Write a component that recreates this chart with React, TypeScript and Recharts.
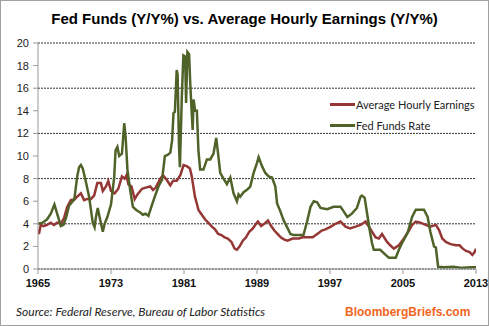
import { LineChart, Line, XAxis, YAxis, CartesianGrid } from 'recharts';

// Average hourly earnings, Y/Y %
const aheYears = [
  1965.0, 1965.1, 1965.3, 1965.6, 1966.0, 1966.4, 1966.75, 1967.1, 1967.5, 1967.85,
  1968.2, 1968.6, 1968.95, 1969.3, 1969.7, 1970.05, 1970.4, 1970.8, 1971.15, 1971.5,
  1971.9, 1972.1, 1972.45, 1972.7, 1973.0, 1973.4, 1973.8, 1974.2, 1974.5, 1974.7,
  1974.9, 1975.25, 1975.6, 1975.9, 1976.4, 1976.8, 1977.3, 1977.6, 1977.9, 1978.4,
  1978.7, 1979.1, 1979.5, 1979.8, 1980.2, 1980.6, 1980.95, 1981.3, 1981.65, 1981.85,
  1982.2, 1982.6, 1982.95, 1983.3, 1983.65, 1984.0, 1984.4, 1984.75, 1985.1, 1985.45,
  1985.8, 1986.2, 1986.55, 1986.8, 1987.1, 1987.45, 1987.8, 1988.15, 1988.55, 1988.9,
  1989.1, 1989.45, 1989.8, 1990.2, 1990.55, 1990.9, 1991.25, 1991.6, 1992.0, 1992.35,
  1992.9, 1993.6, 1994.0, 1994.5, 1995.1, 1995.6, 1996.1, 1996.5, 1997.1, 1997.6,
  1998.15, 1998.7, 1999.2, 1999.8, 2000.35, 2000.9, 2001.45, 2002.0, 2002.35, 2002.7,
  2003.25, 2003.6, 2004.0, 2004.55, 2005.1, 2005.65, 2006.0, 2006.4, 2006.9, 2007.5,
  2008.0, 2008.6, 2008.95, 2009.3, 2009.7, 2010.2, 2010.8, 2011.2, 2011.55, 2011.9,
  2012.3, 2012.6, 2012.85, 2013.0,
];
const aheValues = [
  3.5, 3.1, 3.9, 3.8, 3.9, 4.1, 3.9, 4.1, 4.0, 4.5,
  5.5, 6.1, 6.1, 6.4, 6.7, 6.1, 6.2, 6.2, 6.5, 7.6,
  7.6, 6.9, 7.3, 7.8, 6.9, 6.7, 7.1, 8.2, 8.0, 8.3,
  7.5, 7.3, 6.2, 6.6, 7.1, 7.2, 7.3, 7.0, 7.2, 8.0,
  8.3, 7.9, 7.4, 7.8, 7.8, 8.3, 9.2, 9.1, 8.9, 8.2,
  6.4, 5.2, 4.8, 4.4, 4.1, 3.8, 3.5, 3.1, 3.0, 2.8,
  2.7, 2.4, 1.8, 1.7, 2.0, 2.5, 2.8, 3.3, 3.6, 4.0,
  4.2, 3.8, 4.0, 4.3, 3.8, 3.4, 3.1, 2.8, 2.6, 2.5,
  2.7, 2.7, 2.8, 2.8, 2.8, 3.1, 3.4, 3.5, 3.75, 4.0,
  4.2, 3.75, 3.6, 3.75, 3.9, 4.2, 3.5, 2.8, 2.7, 3.1,
  2.4, 2.1, 1.8, 2.1, 2.7, 3.4, 3.9, 4.2, 4.1, 3.9,
  3.75, 3.9, 3.45, 2.7, 2.4, 2.2, 2.1, 2.1, 1.8, 1.6,
  1.5, 1.25, 1.5, 1.8,
];

// Fed funds rate, %
const ffYears = [
  1965.0, 1965.5, 1966.0, 1966.4, 1966.8, 1967.1, 1967.5, 1967.8, 1968.1, 1968.4,
  1968.8, 1969.0, 1969.3, 1969.5, 1969.7, 1969.9, 1970.2, 1970.6, 1971.0, 1971.2,
  1971.35, 1971.55, 1971.75, 1972.1, 1972.3, 1972.6, 1973.0, 1973.35, 1973.5, 1973.7,
  1973.9, 1974.2, 1974.45, 1974.6, 1974.8, 1975.1, 1975.4, 1975.8, 1976.2, 1976.5,
  1976.8, 1977.1, 1977.5, 1977.8, 1978.2, 1978.6, 1978.9, 1979.2, 1979.5, 1979.7,
  1979.85, 1980.0, 1980.2, 1980.3, 1980.45, 1980.55, 1980.76, 1980.93, 1981.12, 1981.23,
  1981.37, 1981.56, 1981.67, 1981.8, 1981.95, 1982.05, 1982.22, 1982.41, 1982.58, 1982.77,
  1983.13, 1983.51, 1983.87, 1984.23, 1984.53, 1984.78, 1984.97, 1985.33, 1985.7, 1986.07,
  1986.43, 1986.8, 1986.98, 1987.16, 1987.53, 1987.9, 1988.26, 1988.63, 1989.0, 1989.18,
  1989.55, 1989.91, 1990.27, 1990.65, 1991.01, 1991.2, 1991.56, 1991.92, 1992.3, 1992.66,
  1993.0, 1994.09, 1994.49, 1994.86, 1995.22, 1995.59, 1995.96, 1996.69, 1997.4, 1998.15,
  1998.5, 1998.9, 1999.4, 1999.95, 2000.35, 2000.5, 2000.8, 2001.05, 2001.35, 2001.6,
  2001.8, 2002.5, 2003.1, 2003.45, 2004.2, 2004.55, 2004.9, 2005.5, 2006.0, 2006.4,
  2007.3, 2007.7, 2008.0, 2008.4, 2008.6, 2008.85, 2009.5, 2010.5, 2011.5, 2012.5,
  2013.0,
];
const ffValues = [
  4.0, 4.1, 4.4, 4.9, 5.7, 4.9, 3.8, 3.9, 4.6, 5.6,
  6.0, 6.3, 8.2, 9.0, 9.2, 8.9, 7.9, 6.4, 4.1, 3.7,
  4.6, 5.4, 4.6, 3.3, 4.0, 4.6, 5.7, 8.1, 10.5, 10.8,
  10.0, 10.2, 12.9, 11.7, 8.8, 7.0, 5.5, 5.2, 5.0, 4.8,
  4.9, 4.7, 5.7, 6.4, 7.3, 7.9, 10.0, 10.1, 10.3, 11.4,
  13.8, 13.9, 17.6, 17.2, 11.0, 9.0, 15.2, 18.9, 18.8, 14.7,
  19.2, 19.0, 16.7, 14.5, 12.3, 15.0, 14.0, 14.0, 10.5, 8.8,
  8.8, 9.7, 9.7, 10.2, 11.6, 9.9, 8.5, 8.0, 7.5, 8.1,
  6.7, 6.0, 6.6, 6.4, 6.8, 7.0, 7.3, 8.5, 9.4, 9.9,
  9.1, 8.5, 8.2, 8.1, 7.3, 5.8, 5.1, 4.3, 3.7, 3.1,
  3.0, 3.0, 4.2, 5.5, 6.0, 5.9, 5.4, 5.3, 5.5, 5.5,
  5.1, 4.6, 4.9, 5.4, 6.4, 6.5, 6.3, 5.0, 3.45, 2.3,
  1.7, 1.7, 1.25, 1.0, 1.0, 1.7, 2.3, 3.2, 4.6, 5.25,
  5.25, 4.6, 3.3, 2.0, 1.9, 0.2, 0.15, 0.2, 0.1, 0.15,
  0.15,
];

const xTicks = [1965, 1973, 1981, 1989, 1997, 2005, 2013];
const yTicks = [0, 2, 4, 6, 8, 10, 12, 14, 16, 18, 20];

const aheData = aheYears.map((year, i) => ({ year, value: aheValues[i] }));
const ffData = ffYears.map((year, i) => ({ year, value: ffValues[i] }));

const RED = '#953735';
const GREEN = '#4f6228';

const legendItems = [
  { label: 'Average Hourly Earnings', color: RED },
  { label: 'Fed Funds Rate', color: GREEN },
];

export default function App() {
  return (
    <div
      style={{
        position: 'absolute',
        left: 0,
        top: 0,
        width: 489,
        height: 326,
        boxSizing: 'border-box',
        border: '1px solid #a0a0a0',
        background: '#fff',
        fontFamily: '"Liberation Sans", Arial, sans-serif',
      }}
    >
      <div
        style={{
          position: 'absolute',
          left: 0,
          top: 9,
          width: 487,
          textAlign: 'center',
          fontSize: 15,
          fontWeight: 'bold',
          color: '#000',
        }}
      >
        Fed Funds (Y/Y%) vs. Average Hourly Earnings (Y/Y%)
      </div>
      <div style={{ position: 'absolute', left: -1, top: -1 }}>
        <LineChart width={489} height={326} margin={{ top: 43, right: 13, left: 0, bottom: 37 }}>
          <CartesianGrid vertical={false} stroke="#333" strokeDasharray="2 1" />
          <XAxis
            dataKey="year"
            type="number"
            domain={[1965, 2013]}
            ticks={xTicks}
            allowDataOverflow
            height={20}
            stroke="#999"
            tickSize={5}
            tick={{ fill: '#111', fontSize: 11, fontWeight: 'bold' }}
            tickMargin={5}
          />
          <YAxis
            domain={[0, 20]}
            ticks={yTicks}
            width={38}
            stroke="#999"
            tickSize={5}
            tick={{ fill: '#222', fontSize: 11 }}
            tickMargin={4}
          />
          <Line
            data={aheData}
            dataKey="value"
            name="Average Hourly Earnings"
            type="linear"
            stroke={RED}
            strokeWidth={2.5}
            dot={false}
            isAnimationActive={false}
          />
          <Line
            data={ffData}
            dataKey="value"
            name="Fed Funds Rate"
            type="linear"
            stroke={GREEN}
            strokeWidth={2.5}
            dot={false}
            isAnimationActive={false}
          />
        </LineChart>
      </div>
      <div
        style={{
          position: 'absolute',
          left: 329,
          top: 93,
          fontFamily: 'Lato, "Liberation Sans", sans-serif',
          fontSize: 11,
          color: '#222',
        }}
      >
        {legendItems.map((item) => (
          <div key={item.label} style={{ display: 'flex', alignItems: 'center', height: 21 }}>
            <span style={{ display: 'inline-block', width: 25, height: 2.5, background: item.color, marginRight: 1 }} />
            <span>{item.label}</span>
          </div>
        ))}
      </div>
      <div
        style={{
          position: 'absolute',
          left: 15,
          top: 303,
          fontFamily: 'Lato, "Liberation Sans", sans-serif',
          fontStyle: 'italic',
          fontSize: 12,
          color: '#222',
        }}
      >
        Source: Federal Reserve, Bureau of Labor Statistics
      </div>
      <div
        style={{
          position: 'absolute',
          left: 344,
          top: 304,
          fontSize: 12,
          fontWeight: 'bold',
          color: '#f26522',
        }}
      >
        BloombergBriefs.com
      </div>
    </div>
  );
}
